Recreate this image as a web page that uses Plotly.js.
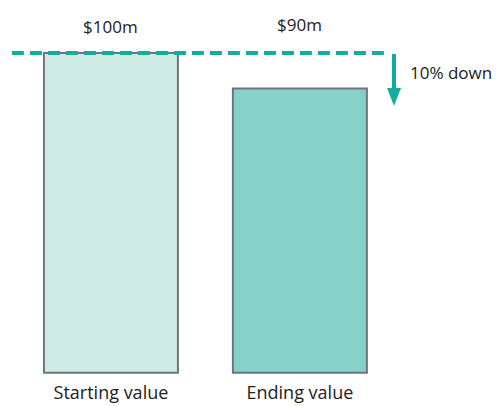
<!DOCTYPE html>
<html>
<head>
<meta charset="utf-8">
<script src="https://cdn.plot.ly/plotly-3.0.1.min.js"></script>
<style>html,body{margin:0;padding:0;background:#fff;}#chart{width:497px;height:406px;}</style>
</head>
<body>
<div id="chart"></div>
<script>
// Data
var categories = ["Starting value", "Ending value"];
var values = [100, 90];           // $ millions
var valueLabels = ["$100m", "$90m"];
var changeLabel = "10% down";

var BASE = 10;  // visual baseline of the bars
var FONT = "'Open Sans', sans-serif";
var TEAL = "#13ad9b";

var trace = {
  type: "bar",
  x: categories,
  y: values.map(function (v) { return v - BASE; }),
  base: BASE,
  width: 0.709,
  marker: {
    color: ["#ceebe6", "#88d1c8"],
    line: { color: "#6e7778", width: 2 }
  },
  hoverinfo: "skip"
};

var annotations = categories.map(function (c, i) {
  return {
    x: c, xref: "x", y: (i === 0 ? 0.93 : 0.935), yref: "paper",
    text: valueLabels[i], showarrow: false,
    xanchor: "center", yanchor: "middle",
    font: { family: FONT, size: 17, color: "#222" }
  };
});
annotations.push({
  x: 1.572, xref: "x", y: 94.4, yref: "y",
  text: changeLabel, showarrow: false,
  xanchor: "left", yanchor: "middle",
  font: { family: FONT, size: 17, color: "#222" }
});

var shapes = [
  { type: "line", xref: "x", yref: "y", x0: -0.524, x1: 1.461, y0: values[0], y1: values[0],
    line: { color: TEAL, width: 4, dash: "12px,6px" } },
  { type: "line", xref: "x", yref: "y", xsizemode: "pixel", ysizemode: "pixel",
    xanchor: 1.498, yanchor: values[0], x0: 0, x1: 0, y0: -1, y1: -38,
    line: { color: TEAL, width: 4 } },
  { type: "path", xref: "x", yref: "y", xsizemode: "pixel", ysizemode: "pixel",
    xanchor: 1.498, yanchor: values[0],
    path: "M-7,-35 L7,-35 L0,-53 Z",
    fillcolor: TEAL, line: { color: TEAL, width: 0 } }
];

var layout = {
  width: 497, height: 406,
  margin: { l: 0, r: 0, t: 0, b: 26, pad: 0 },
  paper_bgcolor: "#fff", plot_bgcolor: "#fff",
  showlegend: false,
  xaxis: {
    range: [-0.587, 2.043],
    showgrid: false, zeroline: false, showline: false, ticks: "",
    ticklabelstandoff: 0,
    tickfont: { family: FONT, size: 18, color: "#222" },
    fixedrange: true
  },
  yaxis: {
    range: [7.94, 114.92], visible: false, fixedrange: true
  },
  annotations: annotations,
  shapes: shapes
};

Plotly.newPlot("chart", [trace], layout, { displayModeBar: false, staticPlot: true });
</script>
</body>
</html>
